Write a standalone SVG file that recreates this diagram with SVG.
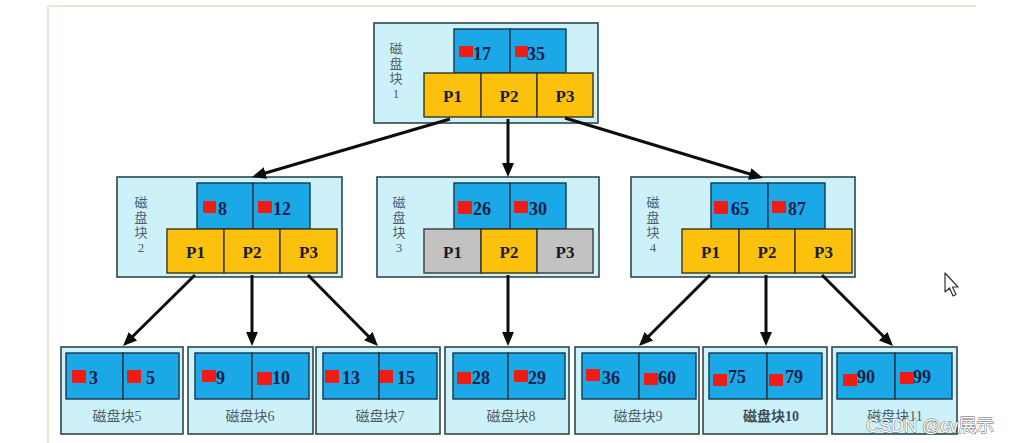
<svg xmlns="http://www.w3.org/2000/svg" width="1012" height="443" viewBox="0 0 1012 443">
<style>
.frame{stroke:#ebe5d3;stroke-width:2;fill:none}
.outer{fill:#cdf1f9;stroke:#2f4848;stroke-width:1.6}
.key{fill:#1aa8e6;stroke:#17374f;stroke-width:1.4}
.ptr{fill:#fcc10c;stroke:#3a3320;stroke-width:1.4}
.gray{fill:#c2c2c2;stroke:#3a3a3a;stroke-width:1.4}
.red{fill:#ef1b14}
.num{font-family:"Liberation Serif",serif;font-weight:bold;font-size:18px;fill:#15204a}
.p{font-family:"Liberation Serif",serif;font-weight:bold;font-size:17px;fill:#1a1a2a;text-anchor:middle}
.lbl{font-family:"Liberation Serif","Noto Sans CJK SC",serif;font-size:13px;fill:#4d5d6a;text-anchor:middle}
.llbl{font-family:"Liberation Serif","Noto Sans CJK SC",serif;font-size:14px;fill:#4d5d6a;text-anchor:middle}
.conn line{stroke:#0d0d0d;stroke-width:3;marker-end:url(#ah)}
.wm{font-family:"Liberation Sans","Noto Sans CJK SC",sans-serif;font-size:18px;fill:#ffffff;stroke:#5a5a5a;stroke-width:0.9;paint-order:stroke}
</style>
<defs>
<marker id="ah" markerUnits="userSpaceOnUse" markerWidth="14" markerHeight="12" viewBox="0 0 14 12" refX="8" refY="6" orient="auto">
<path d="M0,0 L14,6 L0,12 z" fill="#0d0d0d"/>
</marker>
</defs>
<rect width="1012" height="443" fill="#ffffff"/>
<g id="frame">
<line class="frame" x1="48" y1="6" x2="976" y2="6"/>
<line class="frame" x1="48" y1="6" x2="48" y2="443"/>
</g>

<g id="block1">
<rect class="outer" x="374" y="23" width="224" height="100"/>
<rect class="key" x="454" y="29" width="56" height="44"/>
<rect class="key" x="510" y="29" width="56" height="44"/>
<rect class="red" x="459" y="46" width="14" height="11"/>
<text class="num" x="473" y="60">17</text>
<rect class="red" x="515" y="46" width="13" height="11"/>
<text class="num" x="527" y="60">35</text>
<rect class="ptr" x="424" y="73" width="57" height="44"/>
<rect class="ptr" x="481" y="73" width="56" height="44"/>
<rect class="ptr" x="537" y="73" width="56" height="44"/>
<text class="p" x="452.5" y="102">P1</text>
<text class="p" x="509" y="102">P2</text>
<text class="p" x="565" y="102">P3</text>
<text class="lbl" x="396" y="53">磁<tspan x="396" dy="15">盘</tspan><tspan x="396" dy="15">块</tspan><tspan x="396" dy="15">1</tspan></text>
</g>

<g id="block2">
<rect class="outer" x="117" y="177" width="225" height="100"/>
<rect class="key" x="197" y="183" width="56" height="46"/>
<rect class="key" x="253" y="183" width="57" height="46"/>
<rect class="red" x="203" y="201" width="13" height="12"/>
<text class="num" x="218" y="215">8</text>
<rect class="red" x="258" y="201" width="14" height="12"/>
<text class="num" x="273" y="215">12</text>
<rect class="ptr" x="167" y="229" width="57" height="44"/>
<rect class="ptr" x="224" y="229" width="56" height="44"/>
<rect class="ptr" x="280" y="229" width="57" height="44"/>
<text class="p" x="195.5" y="258">P1</text>
<text class="p" x="252" y="258">P2</text>
<text class="p" x="308.5" y="258">P3</text>
<text class="lbl" x="141" y="207">磁<tspan x="141" dy="15">盘</tspan><tspan x="141" dy="15">块</tspan><tspan x="141" dy="15">2</tspan></text>
</g>

<g id="block3">
<rect class="outer" x="377" y="177" width="222" height="100"/>
<rect class="key" x="454" y="183" width="56" height="46"/>
<rect class="key" x="510" y="183" width="56" height="46"/>
<rect class="red" x="458" y="201" width="14" height="13"/>
<text class="num" x="473" y="215">26</text>
<rect class="red" x="514" y="201" width="14" height="12"/>
<text class="num" x="529" y="215">30</text>
<rect class="gray" x="424" y="229" width="57" height="44"/>
<rect class="ptr" x="481" y="229" width="56" height="44"/>
<rect class="gray" x="537" y="229" width="56" height="44"/>
<text class="p" x="452.5" y="258">P1</text>
<text class="p" x="509" y="258">P2</text>
<text class="p" x="565" y="258">P3</text>
<text class="lbl" x="399" y="207">磁<tspan x="399" dy="15">盘</tspan><tspan x="399" dy="15">块</tspan><tspan x="399" dy="15">3</tspan></text>
</g>

<g id="block4">
<rect class="outer" x="631" y="177" width="224" height="100"/>
<rect class="key" x="711" y="183" width="57" height="46"/>
<rect class="key" x="768" y="183" width="57" height="46"/>
<rect class="red" x="714" y="201" width="14" height="13"/>
<text class="num" x="731" y="215">65</text>
<rect class="red" x="772" y="201" width="14" height="12"/>
<text class="num" x="788" y="215">87</text>
<rect class="ptr" x="682" y="229" width="57" height="44"/>
<rect class="ptr" x="739" y="229" width="56" height="44"/>
<rect class="ptr" x="795" y="229" width="57" height="44"/>
<text class="p" x="710.5" y="258">P1</text>
<text class="p" x="767" y="258">P2</text>
<text class="p" x="823.5" y="258">P3</text>
<text class="lbl" x="653" y="207">磁<tspan x="653" dy="15">盘</tspan><tspan x="653" dy="15">块</tspan><tspan x="653" dy="15">4</tspan></text>
</g>

<g id="block5">
<rect class="outer" x="61" y="347" width="122" height="87"/>
<rect class="key" x="66" y="353" width="57" height="46"/>
<rect class="key" x="123" y="353" width="56" height="46"/>
<rect class="red" x="72" y="370" width="14" height="13"/>
<text class="num" x="89" y="384">3</text>
<rect class="red" x="127" y="370" width="14" height="13"/>
<text class="num" x="146" y="384">5</text>
<text class="llbl" x="117" y="421">磁盘块5</text>
</g>

<g id="block6">
<rect class="outer" x="188" y="347" width="125" height="87"/>
<rect class="key" x="195" y="353" width="57" height="46"/>
<rect class="key" x="252" y="353" width="57" height="46"/>
<rect class="red" x="202" y="370" width="14" height="12"/>
<text class="num" x="216" y="384">9</text>
<rect class="red" x="257" y="372" width="15" height="13"/>
<text class="num" x="272" y="384">10</text>
<text class="llbl" x="250" y="421">磁盘块6</text>
</g>

<g id="block7">
<rect class="outer" x="316" y="347" width="124" height="87"/>
<rect class="key" x="323" y="353" width="56" height="46"/>
<rect class="key" x="379" y="353" width="58" height="46"/>
<rect class="red" x="325" y="370" width="14" height="13"/>
<text class="num" x="342" y="384">13</text>
<rect class="red" x="380" y="370" width="13" height="13"/>
<text class="num" x="397" y="384">15</text>
<text class="llbl" x="380" y="421">磁盘块7</text>
</g>

<g id="block8">
<rect class="outer" x="445" y="347" width="124" height="87"/>
<rect class="key" x="453" y="353" width="55" height="46"/>
<rect class="key" x="508" y="353" width="57" height="46"/>
<rect class="red" x="457" y="372" width="14" height="12"/>
<text class="num" x="472" y="384">28</text>
<rect class="red" x="514" y="370" width="14" height="12"/>
<text class="num" x="528" y="384">29</text>
<text class="llbl" x="511" y="421">磁盘块8</text>
</g>

<g id="block9">
<rect class="outer" x="575" y="347" width="124" height="87"/>
<rect class="key" x="582" y="353" width="57" height="46"/>
<rect class="key" x="639" y="353" width="57" height="46"/>
<rect class="red" x="586" y="369" width="14" height="12"/>
<text class="num" x="602" y="384">36</text>
<rect class="red" x="644" y="373" width="14" height="12"/>
<text class="num" x="658" y="384">60</text>
<text class="llbl" x="638" y="421">磁盘块9</text>
</g>

<g id="block10">
<rect class="outer" x="703" y="347" width="124" height="87"/>
<rect class="key" x="709" y="353" width="58" height="46"/>
<rect class="key" x="767" y="353" width="55" height="46"/>
<rect class="red" x="713" y="374" width="14" height="12"/>
<text class="num" x="728" y="383">75</text>
<rect class="red" x="769" y="374" width="14" height="12"/>
<text class="num" x="785" y="383">79</text>
<text class="llbl" x="771" y="421" style="font-weight:bold;fill:#3d4d5a">磁盘块10</text>
</g>

<g id="block11">
<rect class="outer" x="832" y="347" width="125" height="87"/>
<rect class="key" x="837" y="353" width="58" height="46"/>
<rect class="key" x="895" y="353" width="57" height="46"/>
<rect class="red" x="843" y="374" width="14" height="12"/>
<text class="num" x="857" y="383">90</text>
<rect class="red" x="900" y="372" width="14" height="12"/>
<text class="num" x="913" y="383">99</text>
<text class="llbl" x="895" y="421">磁盘块11</text>
</g>

<g id="connectors" class="conn">
<line x1="450" y1="119" x2="257.8" y2="175.3"/>
<line x1="508" y1="119" x2="508" y2="171"/>
<line x1="565" y1="118" x2="757.3" y2="176.3"/>
<line x1="195" y1="275" x2="127.3" y2="341.8"/>
<line x1="252" y1="275" x2="252" y2="340"/>
<line x1="308" y1="275" x2="373.8" y2="341.7"/>
<line x1="508" y1="275" x2="508" y2="340"/>
<line x1="710" y1="275" x2="643.2" y2="341.8"/>
<line x1="766" y1="275" x2="766" y2="340"/>
<line x1="822" y1="275" x2="888.8" y2="341.8"/>
</g>

<g id="watermark">
<text class="wm" x="866" y="432">CSDN @cv展示</text>
</g>

<g id="cursor">
<path d="M945,273 L945,292 L949.5,288 L953,296 L956,294.5 L952.5,287 L958,287 z" fill="#ffffff" stroke="#333333" stroke-width="1.2" stroke-linejoin="round"/>
</g>
</svg>
